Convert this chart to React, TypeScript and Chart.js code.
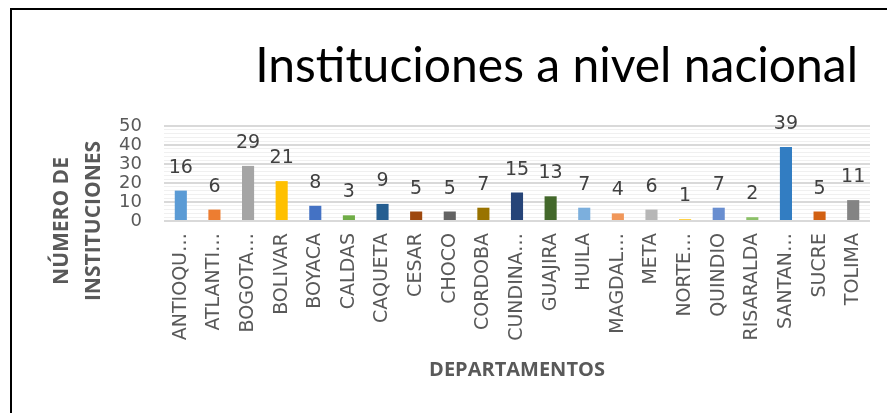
import React, { useEffect, useRef } from "react";
import { Chart, registerables } from "chart.js";

Chart.register(...registerables);

const chartTitle = "Instituciones a nivel nacional";
const yTitleLines = ["NÚMERO DE", "INSTITUCIONES"];
const xTitle = "DEPARTAMENTOS";
const categories = [
  "ANTIOQU…", "ATLANTI…", "BOGOTA…", "BOLIVAR", "BOYACA", "CALDAS", "CAQUETA",
  "CESAR", "CHOCO", "CORDOBA", "CUNDINA…", "GUAJIRA", "HUILA", "MAGDAL…",
  "META", "NORTE…", "QUINDIO", "RISARALDA", "SANTAN…", "SUCRE", "TOLIMA",
];
const values = [16, 6, 29, 21, 8, 3, 9, 5, 5, 7, 15, 13, 7, 4, 6, 1, 7, 2, 39, 5, 11];
const barColors = [
  "#5B9BD5", "#ED7D31", "#A5A5A5", "#FFC000", "#4472C4", "#70AD47", "#255E91",
  "#9E480E", "#636363", "#997300", "#264478", "#43682B", "#7CAFDD", "#F1975A",
  "#B7B7B7", "#FFCD33", "#698ED0", "#8CC168", "#327DC2", "#D26012", "#848484",
];
const yMin = 0;
const yMax = 50;
const yMajorStep = 10;
const yMinorStep = 2;

const W = 875;
const H = 403;

export default function App() {
  const ref = useRef<HTMLCanvasElement | null>(null);

  useEffect(() => {
    if (!ref.current) return;

    const valueLabels = {
      id: "valueLabels",
      afterDatasetsDraw(chart: any) {
        const ctx = chart.ctx;
        const meta = chart.getDatasetMeta(0);
        ctx.save();
        ctx.font = "19px 'DejaVu Sans'";
        ctx.fillStyle = "#404040";
        ctx.textAlign = "center";
        ctx.textBaseline = "alphabetic";
        meta.data.forEach((bar: any, i: number) => {
          ctx.fillText(String(values[i]), bar.x, bar.y - 18);
        });
        ctx.restore();
      },
    };

    const titlesPlugin = {
      id: "titlesPlugin",
      afterDraw(chart: any) {
        const ctx = chart.ctx;
        const area = chart.chartArea;
        ctx.save();
        // chart title
        ctx.font = "48px Lato";
        ctx.fillStyle = "#000000";
        ctx.textAlign = "right";
        ctx.textBaseline = "alphabetic";
        ctx.fillText(chartTitle, area.right - 12, area.top - 44);
        // y axis title
        ctx.font = "bold 21px 'Open Sans'";
        ctx.fillStyle = "#595959";
        ctx.textAlign = "center";
        ctx.textBaseline = "middle";
        const cy = area.bottom;
        const xs = [area.left - 102, area.left - 70];
        yTitleLines.forEach((line, i) => {
          ctx.save();
          ctx.translate(xs[i], cy);
          ctx.rotate(-Math.PI / 2);
          ctx.fillText(line, 0, 0);
          ctx.restore();
        });
        ctx.restore();
      },
    };

    const chart = new Chart(ref.current, {
      type: "bar",
      data: {
        labels: categories,
        datasets: [
          {
            data: values,
            backgroundColor: barColors,
            borderWidth: 0,
            barPercentage: 0.36,
            categoryPercentage: 1,
          },
        ],
      },
      options: {
        animation: false,
        responsive: false,
        devicePixelRatio: 1,
        layout: { padding: { left: 0, right: 17, top: 116, bottom: 0 } },
        plugins: {
          legend: { display: false },
          tooltip: { enabled: false },
          title: { display: false },
        },
        scales: {
          x: {
            grid: { display: false },
            border: { display: false },
            ticks: {
              autoSkip: false,
              maxRotation: 90,
              minRotation: 90,
              padding: 4,
              color: "#595959",
              font: { family: "DejaVu Sans", size: 19 },
            },
            title: {
              display: true,
              text: xTitle,
              color: "#595959",
              font: { family: "Open Sans", size: 20, weight: "bold", lineHeight: 1.2 },
              padding: { top: 0, bottom: 31 },
            },
            afterFit(scale: any) {
              scale.height = 192;
            },
          },
          y: {
            min: yMin,
            max: yMax,
            border: { display: false },
            grid: {
              drawTicks: false,
              color: (c: any) => (c.tick && c.tick.value % yMajorStep === 0 ? "#d9d9d9" : "#f0f0f0"),
              lineWidth: (c: any) => (c.tick && c.tick.value % yMajorStep === 0 ? 2 : 1),
            },
            ticks: {
              stepSize: yMinorStep,
              autoSkip: false,
              padding: 22,
              color: "#595959",
              font: { family: "DejaVu Sans", size: 18, lineHeight: 1 },
              callback: (v: any) => (Number(v) % yMajorStep === 0 ? String(v) : ""),
            },
            afterFit(scale: any) {
              scale.width = 152;
            },
          },
        },
      },
      plugins: [valueLabels, titlesPlugin],
    });

    return () => chart.destroy();
  }, []);

  return (
    <div
      style={{
        position: "fixed",
        left: 10,
        top: 8,
        width: W,
        height: H,
        borderTop: "2px solid #000",
        borderLeft: "2px solid #000",
        background: "#fff",
      }}
    >
      <canvas ref={ref} width={W} height={H} style={{ display: "block", width: W, height: H }} />
    </div>
  );
}
